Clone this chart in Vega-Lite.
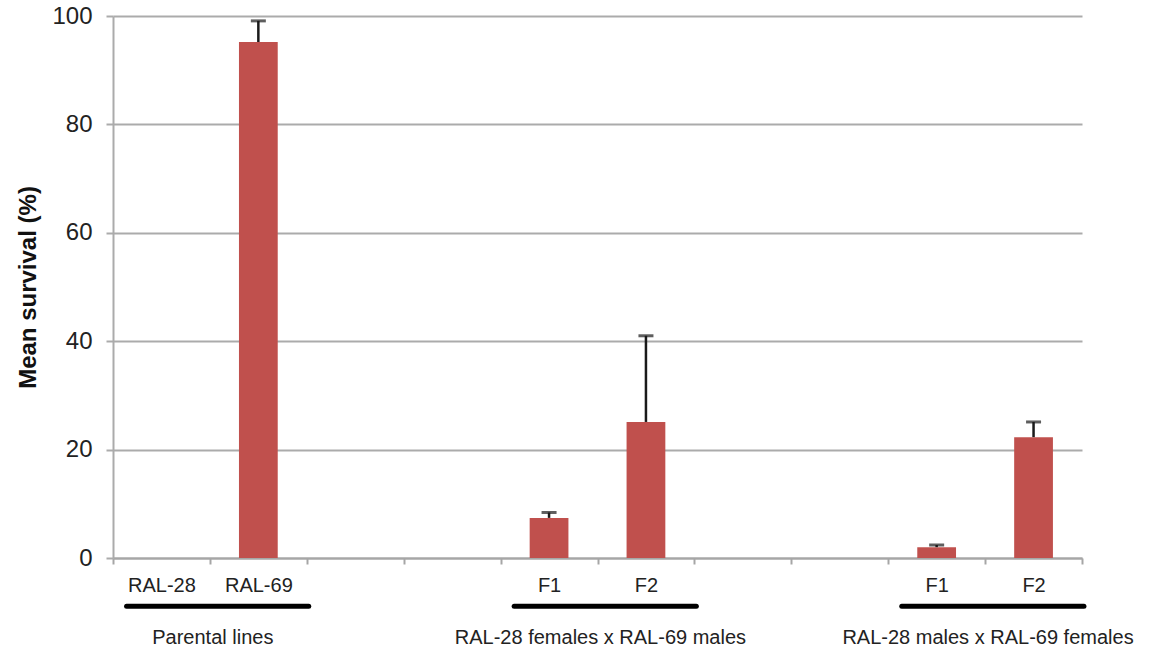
{
  "$schema": "https://vega.github.io/schema/vega-lite/v6.json",
  "autosize": {"type": "none"},
  "padding": {"left": 113, "top": 16, "right": 84, "bottom": 93},
  "width": 969,
  "height": 542,
  "config": {
    "view": {"stroke": null},
    "font": "Liberation Sans",
    "axis": {"labelFont": "Liberation Sans", "titleFont": "Liberation Sans"}
  },
  "datasets": {
    "survival": [
      {"key": "a|RAL-28", "mean": 0, "upper": null},
      {"key": "b|RAL-69", "mean": 95.2, "upper": 99.1},
      {"key": "e|F1", "mean": 7.4, "upper": 8.4},
      {"key": "f|F2", "mean": 25.1, "upper": 41.0},
      {"key": "i|F1", "mean": 2.0, "upper": 2.4},
      {"key": "j|F2", "mean": 22.3, "upper": 25.1}
    ],
    "crosses": [
      {"start": "a|RAL-28", "end": "b|RAL-69", "label": "Parental lines"},
      {"start": "e|F1", "end": "f|F2", "label": "RAL-28 females x RAL-69 males"},
      {"start": "i|F1", "end": "j|F2", "label": "RAL-28 males x RAL-69 females"}
    ]
  },
  "resolve": {"scale": {"x": "shared", "y": "shared"}},
  "layer": [
    {
      "data": {"name": "survival"},
      "mark": {"type": "bar", "color": "#c0504d", "width": {"band": 0.4}},
      "encoding": {
        "x": {
          "field": "key",
          "type": "nominal",
          "title": null,
          "scale": {
            "domain": ["a|RAL-28", "b|RAL-69", "c|", "d|", "e|F1", "f|F2", "g|", "h|", "i|F1", "j|F2"],
            "paddingInner": 0,
            "paddingOuter": 0
          },
          "axis": {
            "labelExpr": "split(datum.value, '|')[1]",
            "labelAngle": 0,
            "labelFontSize": 20,
            "labelColor": "#222222",
            "labelPadding": 11,
            "domainColor": "#a6a6a6",
            "domainWidth": 2,
            "tickColor": "#a6a6a6",
            "tickWidth": 2,
            "tickSize": 6,
            "tickBand": "extent",
            "grid": false
          }
        },
        "y": {
          "field": "mean",
          "type": "quantitative",
          "title": "Mean survival (%)",
          "scale": {"domain": [0, 100], "nice": false},
          "axis": {
            "values": [0, 20, 40, 60, 80, 100],
            "labelFontSize": 24,
            "labelColor": "#222222",
            "labelPadding": 14,
            "tickSize": 7,
            "tickColor": "#ababab",
            "tickWidth": 2,
            "domainColor": "#ababab",
            "domainWidth": 2,
            "grid": true,
            "gridColor": "#ababab",
            "gridWidth": 2,
            "titleFontSize": 24,
            "titleFontWeight": "bold",
            "titleColor": "#111111",
            "titlePadding": 11
          }
        }
      }
    },
    {
      "data": {"name": "survival"},
      "mark": {"type": "rule", "color": "#1a1a1a", "strokeWidth": 2.5},
      "encoding": {
        "x": {"field": "key", "type": "nominal", "title": null},
        "y": {"field": "mean", "type": "quantitative", "title": "Mean survival (%)"},
        "y2": {"field": "upper"}
      }
    },
    {
      "data": {"name": "survival"},
      "mark": {"type": "tick", "color": "#1a1a1a", "size": 15, "thickness": 3},
      "encoding": {
        "x": {"field": "key", "type": "nominal", "title": null},
        "y": {"field": "upper", "type": "quantitative", "title": "Mean survival (%)"}
      }
    },
    {
      "data": {"name": "crosses"},
      "mark": {"type": "rule", "color": "#000000", "strokeWidth": 5, "strokeCap": "round"},
      "encoding": {
        "x": {"field": "start", "type": "nominal", "title": null, "bandPosition": 0.14},
        "x2": {"field": "end", "bandPosition": 1.02},
        "y": {"datum": -8.9}
      }
    },
    {
      "data": {"name": "crosses"},
      "mark": {"type": "text", "fontSize": 20, "color": "#222222", "baseline": "middle", "align": "center"},
      "encoding": {
        "x": {"field": "end", "type": "nominal", "title": null, "bandPosition": 0.03},
        "y": {"datum": -14.8},
        "text": {"field": "label"}
      }
    }
  ]
}
